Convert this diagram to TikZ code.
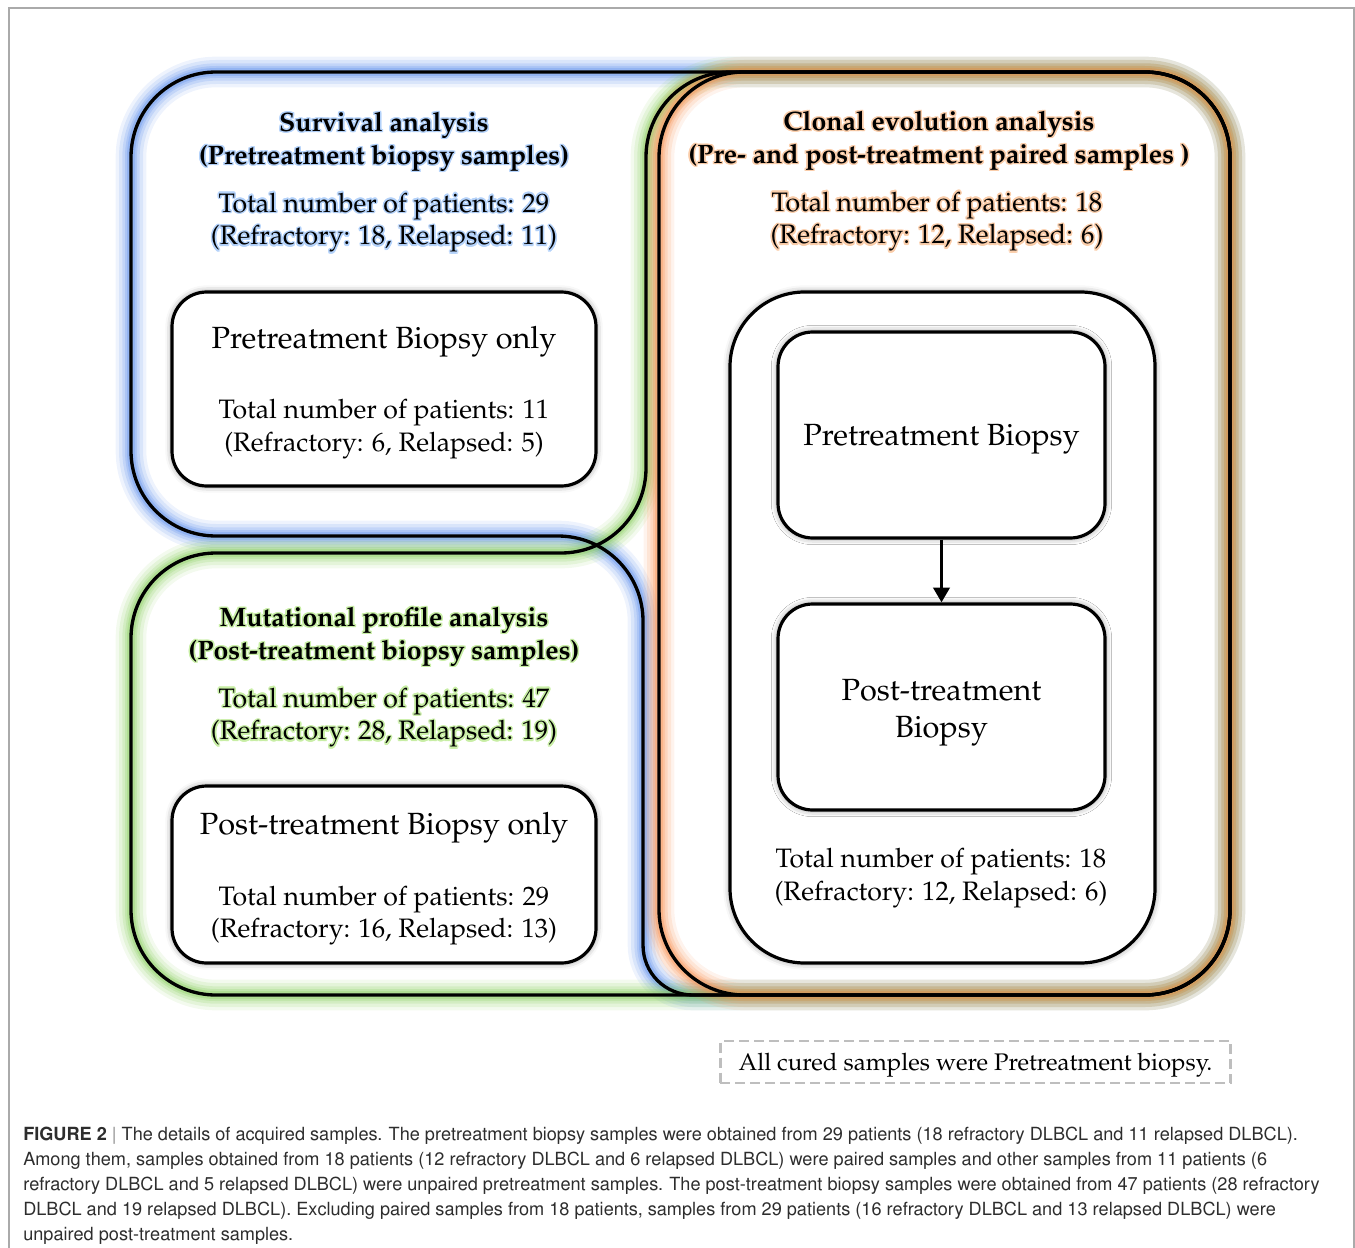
\documentclass[tikz,border=0pt]{standalone}
\usepackage[T1]{fontenc}
\usepackage{helvet}
\renewcommand{\rmdefault}{ppl}
\usepackage[copies]{contour}
\usepackage{tikz}
\usetikzlibrary{arrows.meta,shadows.blur,positioning}

\definecolor{glowblue}{RGB}{90,140,235}
\definecolor{glowgreen}{RGB}{135,205,90}
\definecolor{gloworange}{RGB}{248,140,75}
\definecolor{haloblue}{RGB}{180,210,250}
\definecolor{halogreen}{RGB}{200,238,165}
\definecolor{haloorange}{RGB}{250,205,170}
\definecolor{framegray}{RGB}{170,170,170}
\definecolor{dashgray}{RGB}{190,190,190}
\definecolor{captext}{RGB}{45,45,45}
\contourlength{1.1pt}

% outlines of the three analysis groups
\newcommand{\survpath}{(131,300) -- (131,157) .. controls (131,110) and (169,72) .. (216,72)
  -- (1145,72) .. controls (1192,72) and (1230,110) .. (1230,157)
  -- (1230,910) .. controls (1230,957) and (1192,995) .. (1145,995)
  -- (693,995) .. controls (665,995) and (643,973) .. (643,945)
  -- (643,621) .. controls (643,574) and (605,536) .. (558,536)
  -- (216,536) .. controls (169,536) and (131,498) .. (131,451) -- cycle}
\newcommand{\mutpath}{(131,760) -- (131,638) .. controls (131,591) and (169,553) .. (216,553)
  -- (561,553) .. controls (608,553) and (646,515) .. (646,468)
  -- (646,157) .. controls (646,110) and (684,72) .. (731,72)
  -- (1145,72) .. controls (1192,72) and (1230,110) .. (1230,157)
  -- (1230,910) .. controls (1230,957) and (1192,995) .. (1145,995)
  -- (216,995) .. controls (169,995) and (131,957) .. (131,910) -- cycle}
\newcommand{\clonpath}{[rounded corners=64pt] (659,72) rectangle (1230,995)}

\tikzset{
  glowline/.style={draw=#1, line width=6pt, draw opacity=0.3, line join=round,
    preaction={draw=#1, line width=23pt, draw opacity=0.1},
    preaction={draw=#1, line width=18pt, draw opacity=0.14},
    preaction={draw=#1, line width=13pt, draw opacity=0.18},
    preaction={draw=#1, line width=9pt, draw opacity=0.22}},
  edgeline/.style={draw=black, line width=2.5pt, line join=round},
  samplebox/.style={draw, line width=2.4pt, rounded corners=26pt, fill=white, inner sep=0pt, align=center,
    font=\fontsize{23}{28}\selectfont,
    blur shadow={shadow xshift=0pt, shadow yshift=0pt, shadow blur radius=5pt, shadow opacity=45}},
  titletext/.style={align=center, font=\bfseries\fontsize{20}{24.75}\selectfont},
  counttext/.style={align=center, font=\fontsize{20}{24.5}\selectfont},
  headtext/.style={align=center, font=\fontsize{23}{28}\selectfont},
}

\begin{document}
\begin{tikzpicture}[x=0.75pt,y=0.75pt,yscale=-1]
    \useasboundingbox (0,0) rectangle (1355,1248);
    % frame of the figure
    \draw[framegray, line width=1.5pt] (9,1248) -- (9,8) -- (1354,8) -- (1354,1248);

    % glows
    \path[glowline=glowblue] \survpath;
    \path[glowline=glowgreen] \mutpath;
    \path[glowline=gloworange] \clonpath;
    % outlines
    \draw[edgeline] \survpath;
    \draw[edgeline] \mutpath;
    \draw[edgeline] \clonpath;

    % Boxes
    \node[samplebox, minimum width=318pt, minimum height=145.5pt] (preonly) at (384,389) {};
    \node[samplebox, minimum width=318pt, minimum height=132.75pt] (postonly) at (384,874.5) {};
    \node[samplebox, rounded corners=56pt, minimum width=318.75pt, minimum height=503.25pt] (paired) at (942.5,627.5) {};
    \node[samplebox, minimum width=245.25pt, minimum height=154.5pt] (prebx) at (941.5,435)
      {\raisebox{-7.9pt}[0pt][0pt]{Pretreatment Biopsy}};
    \node[samplebox, minimum width=245.25pt, minimum height=154.5pt] (postbx) at (941.5,707)
      {\raisebox{-22.9pt}[0pt][0pt]{\begin{tabular}[b]{@{}c@{}}Post-treatment\\Biopsy\end{tabular}}};
    \draw[-{Triangle[length=11pt,width=12pt]}, line width=2.6pt] (prebx.south) -- (postbx.north);

    % Text Node
    \node[titletext] (survttl) at (384,142.5) {\contour{haloblue}{Survival analysis}\\\contour{haloblue}{(Pretreatment biopsy samples)}};
    \node[counttext] (survcnt) at (384,223.5) {\contour{haloblue}{Total number of patients: 29}\\\contour{haloblue}{(Refractory: 18, Relapsed: 11)}};
    \node[headtext] (preonlyhd) at (384,342) {Pretreatment Biopsy only};
    \node[counttext] (preonlycnt) at (384,429) {Total number of patients: 11\\(Refractory: 6, Relapsed: 5)};

    \node[titletext] (mutttl) at (384,637.5) {\contour{halogreen}{Mutational profile analysis}\\\contour{halogreen}{(Post-treatment biopsy samples)}};
    \node[counttext] (mutcnt) at (384,718.5) {\contour{halogreen}{Total number of patients: 47}\\\contour{halogreen}{(Refractory: 28, Relapsed: 19)}};
    \node[headtext] (postonlyhd) at (384,828) {Post-treatment Biopsy only};
    \node[counttext] (postonlycnt) at (384,915.5) {Total number of patients: 29\\(Refractory: 16, Relapsed: 13)};

    \node[titletext] (clonttl) at (939,141.5) {\contour{haloorange}{Clonal evolution analysis}\\\contour{haloorange}{(Pre- and post-treatment paired samples )}};
    \node[counttext] (cloncnt) at (937,222.5) {\contour{haloorange}{Total number of patients: 18}\\\contour{haloorange}{(Refractory: 12, Relapsed: 6)}};
    \node[counttext] (pairedcnt) at (941,878) {Total number of patients: 18\\(Refractory: 12, Relapsed: 6)};

    % note on cured samples
    \node[draw=dashgray, line width=2.2pt, dash pattern=on 7.5pt off 3.75pt, minimum width=383pt, minimum height=31.5pt, inner sep=0pt,
      font=\fontsize{18}{22}\selectfont] (curednote) at (975.5,1062) {\raisebox{-6.2pt}[0pt][0pt]{All cured samples were Pretreatment biopsy.}};

    % caption
    \node[anchor=north west, align=left, inner sep=0pt, text=captext, font=\sffamily\fontsize{13.6}{18.75}\selectfont] (caption) at (23,1127)
      {\textbf{FIGURE 2} {\color{gray}|} The details of acquired samples. The pretreatment biopsy samples were obtained from 29 patients (18 refractory DLBCL and 11 relapsed DLBCL).\\
       Among them, samples obtained from 18 patients (12 refractory DLBCL and 6 relapsed DLBCL) were paired samples and other samples from 11 patients (6\\
       refractory DLBCL and 5 relapsed DLBCL) were unpaired pretreatment samples. The post-treatment biopsy samples were obtained from 47 patients (28 refractory\\
       DLBCL and 19 relapsed DLBCL). Excluding paired samples from 18 patients, samples from 29 patients (16 refractory DLBCL and 13 relapsed DLBCL) were\\
       unpaired post-treatment samples.};
\end{tikzpicture}
\end{document}
